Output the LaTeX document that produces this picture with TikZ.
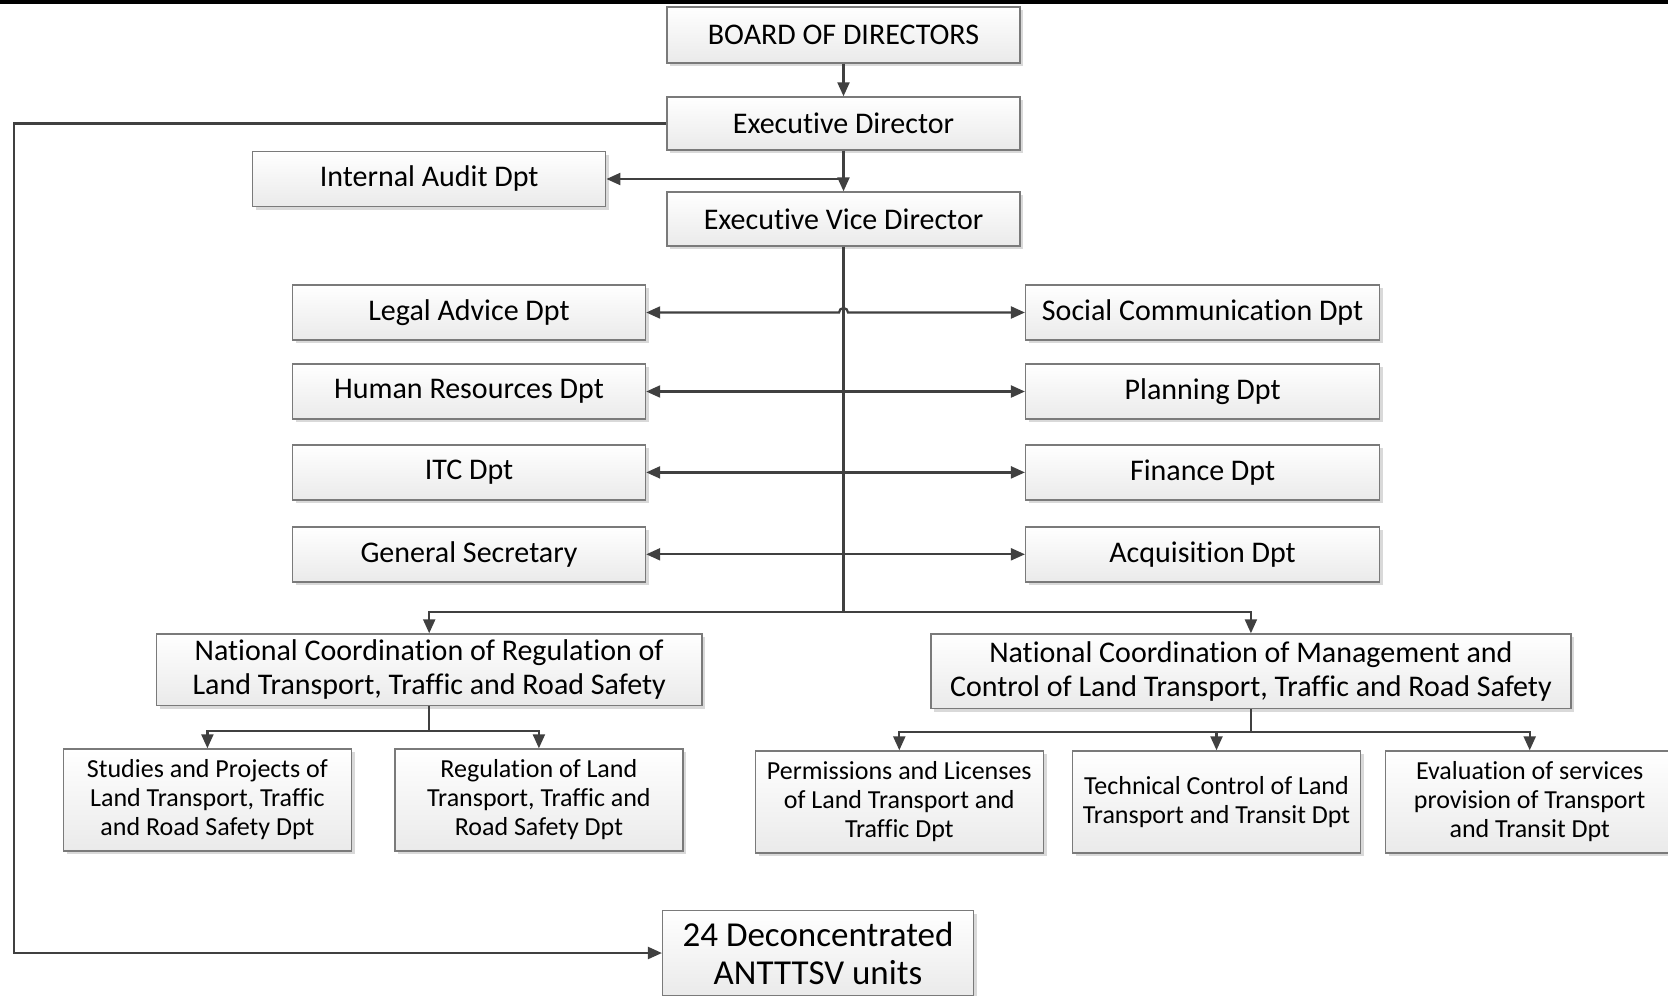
\documentclass[tikz,border=0pt]{standalone}
\usepackage{fontspec}
\setmainfont{Carlito}[RawFeature={-liga}]
\usetikzlibrary{arrows.meta,shadows,calc}
\definecolor{linec}{HTML}{404040}
\definecolor{boxline}{HTML}{7A7A7A}
\definecolor{boxbot}{HTML}{EAEAEA}
\definecolor{shadowc}{HTML}{D9D9D9}
\tikzset{
  orgbox/.style={draw=boxline, line width=0.7pt, top color=white, bottom color=boxbot,
    inner sep=0pt, align=center, text=black, font=\fontsize{15}{17}\selectfont,
    drop shadow={shadow xshift=1.6pt, shadow yshift=-1.6pt, fill=shadowc, opacity=1}},
  widebox/.style={orgbox, minimum width=176.5pt, minimum height=27.5pt},
  subbox/.style={orgbox, minimum width=144pt, minimum height=51pt,
    font=\fontsize{13}{14.5}\selectfont},
  link/.style={draw=linec, line width=1.1pt},
  tip/.style={-{Triangle[length=7pt,width=6pt]}},
  twotip/.style={{Triangle[length=7pt,width=6pt]}-{Triangle[length=7pt,width=6pt]}},
}
\begin{document}
\begin{tikzpicture}[x=0.5pt, y=-0.5pt]
  \clip (0,0) rectangle (1668,995);
  \fill[white] (0,0) rectangle (1668,995);
  \fill[black] (0,0) rectangle (1668,4);

  % top of the hierarchy
  \node[widebox, minimum height=28pt] (board) at (843.5,35) {BOARD OF DIRECTORS};
  \node[widebox, minimum height=26.5pt] (exec) at (843.5,123.5) {Executive Director};
  \node[widebox, minimum height=27pt] (vice) at (843.5,219) {Executive Vice Director};
  \node[widebox] (audit) at (429.2,179) {Internal Audit Dpt};

  % staff departments
  \node[widebox] (legal) at (469,312.5) {Legal Advice Dpt};
  \node[widebox] (hr) at (469,391.5) {Human Resources Dpt};
  \node[widebox] (itc) at (469,472.4) {ITC Dpt};
  \node[widebox] (gensec) at (469,554.3) {General Secretary};
  \node[widebox, minimum width=177pt] (social) at (1202.6,312.5) {Social Communication Dpt};
  \node[widebox, minimum width=177pt] (planning) at (1202.6,391.5) {Planning Dpt};
  \node[widebox, minimum width=177pt] (finance) at (1202.6,472.4) {Finance Dpt};
  \node[widebox, minimum width=177pt] (acq) at (1202.6,554.3) {Acquisition Dpt};

  % national coordinations
  \node[orgbox, minimum width=272.8pt, minimum height=35.7pt] (ncreg) at (429.2,669.7)
    {National Coordination of Regulation of\\Land Transport, Traffic and Road Safety};
  \node[orgbox, minimum width=320pt, minimum height=37.2pt] (ncman) at (1250.9,671.2)
    {National Coordination of Management and\\Control of Land Transport, Traffic and Road Safety};

  % operational departments
  \node[subbox] (studies) at (207.4,800) {Studies and Projects of\\Land Transport, Traffic\\and Road Safety Dpt};
  \node[subbox] (regul) at (538.9,800) {Regulation of Land\\Transport, Traffic and\\Road Safety Dpt};
  \node[subbox] (permits) at (899.3,802) {Permissions and Licenses\\of Land Transport and\\Traffic Dpt};
  \node[subbox] (techctl) at (1216.5,802) {Technical Control of Land\\Transport and Transit Dpt};
  \node[subbox] (evalsvc) at (1529.7,802) {Evaluation of services\\provision of Transport\\and Transit Dpt};

  % territorial units
  \node[orgbox, minimum width=155.4pt, minimum height=42.5pt,
    font=\fontsize{17.5}{19}\selectfont] (units) at (818,953) {24 Deconcentrated\\ANTTTSV units};

  % connectors
  \coordinate (execfoot) at (843.5,179);
  \coordinate (bus) at (843.5,611.7);
  \coordinate (leftrail) at (13.8,123.5);

  \draw[link, tip] (board.south) -- (exec.north);
  \draw[link, tip] (exec.south) -- (vice.north);
  \draw[link, tip] (execfoot) -- (audit.east);
  \draw[link] (vice.south) -- (bus);

  \draw[link, twotip] (legal.east) -- (839,312.5) arc[start angle=180, end angle=0, radius=2.25pt] -- (social.west);
  \draw[link, twotip] (hr.east) -- (planning.west);
  \draw[link, twotip] (itc.east) -- (finance.west);
  \draw[link, twotip] (gensec.east) -- (acq.west);

  \draw[link, tip] (bus) -| (ncreg.north);
  \draw[link, tip] (bus) -| (ncman.north);

  \draw[link, tip] (ncreg.south) -- ++(0,24.5) -| (studies.north);
  \draw[link, tip] (ncreg.south) -- ++(0,24.5) -| (regul.north);
  \draw[link, tip] (ncman.south) -- ++(0,22.5) -| (permits.north);
  \draw[link, tip] (ncman.south) -- ++(0,22.5) -| (techctl.north);
  \draw[link, tip] (ncman.south) -- ++(0,22.5) -| (evalsvc.north);

  \draw[link, tip] (exec.west) -- (leftrail) |- (units.west);
\end{tikzpicture}
\end{document}
